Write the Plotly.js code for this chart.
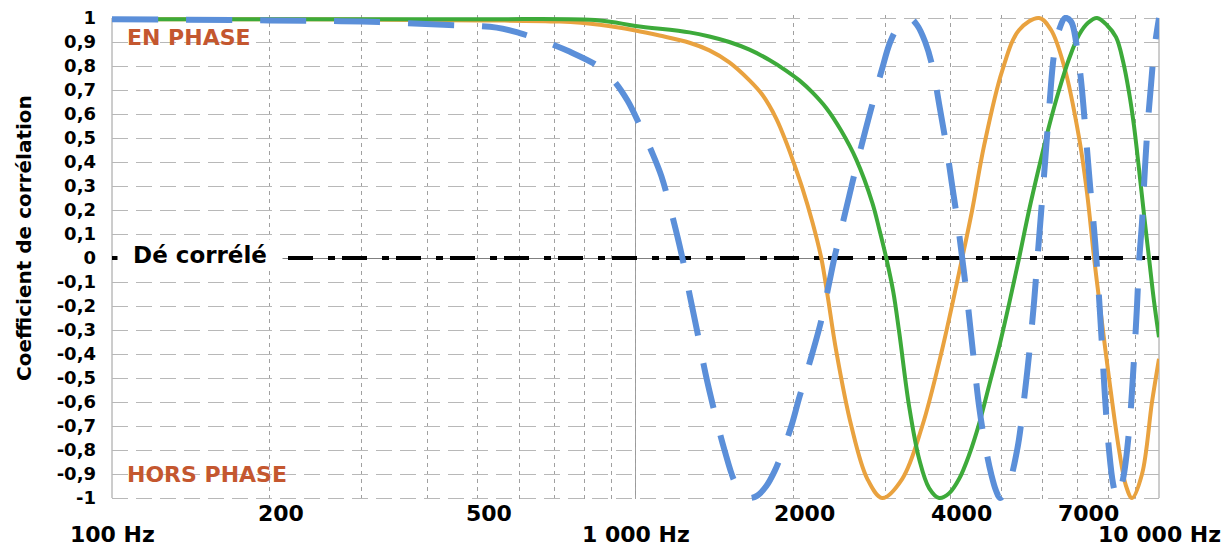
<!DOCTYPE html>
<html>
<head>
<meta charset="utf-8">
<script src="https://cdn.plot.ly/plotly-3.0.1.min.js"></script>
<style>
  html, body { margin: 0; padding: 0; background: #ffffff; }
  #chart { width: 1227px; height: 547px; }
</style>
</head>
<body>
<div id="chart"></div>
<script>
// ---- Data (frequency in Hz, correlation coefficient) ----
const freqBlue = [100, 200, 300, 430, 543, 601, 665, 748, 854, 912, 966, 1018, 1073, 1121, 1171, 1229, 1268, 1313, 1360, 1415, 1479, 1545, 1601, 1651, 1709, 1778, 1842, 1899, 1985, 2056, 2168, 2264, 2346, 2398, 2472, 2561, 2653, 2748, 2858, 2960, 3066, 3190, 3333, 3452, 3576, 3689, 3803, 3922, 4027, 4117, 4208, 4301, 4416, 4534, 4656, 4780, 4885, 4972, 5150, 5358, 5502, 5648, 5774, 5850, 5954, 6059, 6167, 6304, 6444, 6616, 6793, 6944, 7097, 7256, 7385, 7516, 7615, 7750, 7886, 8026, 8170, 8313, 8537, 8765, 8959, 9078, 9159, 9281, 9404, 9527, 9654, 9783, 10000];
const valBlue  = [0.995, 0.99, 0.985, 0.972, 0.96, 0.937, 0.905, 0.86, 0.795, 0.735, 0.655, 0.555, 0.445, 0.34, 0.19, 0.0, -0.15, -0.31, -0.48, -0.64, -0.80, -0.93, -0.985, -1.0, -0.99, -0.95, -0.89, -0.82, -0.70, -0.58, -0.41, -0.26, -0.10, 0.0, 0.12, 0.26, 0.40, 0.53, 0.67, 0.79, 0.90, 0.97, 1.0, 0.97, 0.90, 0.80, 0.64, 0.47, 0.30, 0.16, 0.0, -0.17, -0.40, -0.62, -0.78, -0.90, -0.97, -1.0, -0.95, -0.80, -0.62, -0.40, -0.18, -0.02, 0.19, 0.40, 0.62, 0.85, 0.95, 1.0, 0.985, 0.90, 0.74, 0.50, 0.30, 0.12, -0.04, -0.30, -0.58, -0.80, -0.94, -1.0, -0.92, -0.72, -0.42, -0.20, -0.02, 0.15, 0.38, 0.57, 0.72, 0.86, 1.0];

const freqGreen = [100, 500, 854, 1000, 1268, 1384, 1511, 1651, 1802, 1942, 2056, 2177, 2314, 2472, 2641, 2834, 2922, 3013, 3107, 3190, 3333, 3484, 3640, 3803, 3974, 4152, 4339, 4534, 4738, 4951, 5173, 5405, 5648, 5902, 6167, 6444, 6733, 7037, 7320, 7615, 7956, 8278, 8537, 8765, 8959, 9159, 9363, 9570, 9783, 10000];
const valGreen  = [0.995, 0.995, 0.99, 0.967, 0.94, 0.923, 0.90, 0.868, 0.825, 0.78, 0.74, 0.69, 0.625, 0.53, 0.41, 0.23, 0.12, 0.0, -0.14, -0.31, -0.62, -0.84, -0.96, -1.0, -0.98, -0.92, -0.82, -0.69, -0.53, -0.37, -0.19, 0.0, 0.20, 0.38, 0.55, 0.70, 0.83, 0.93, 0.98, 1.0, 0.97, 0.92, 0.82, 0.69, 0.55, 0.37, 0.18, 0.0, -0.18, -0.33];

const freqOrange = [100, 228, 500, 716, 854, 1000, 1111, 1268, 1384, 1511, 1651, 1747, 1858, 1942, 2003, 2084, 2177, 2264, 2325, 2419, 2584, 2772, 2960, 3233, 3530, 3854, 4208, 4397, 4635, 5017, 5405, 5902, 6221, 6587, 7037, 7288, 7516, 7783, 8026, 8389, 8650, 8881, 9281, 9697, 10000];
const valOrange  = [0.995, 0.995, 0.99, 0.985, 0.972, 0.948, 0.927, 0.897, 0.865, 0.815, 0.74, 0.68, 0.58, 0.48, 0.40, 0.29, 0.15, 0.0, -0.15, -0.39, -0.70, -0.92, -1.0, -0.92, -0.70, -0.38, 0.0, 0.20, 0.47, 0.78, 0.95, 1.0, 0.95, 0.80, 0.50, 0.27, 0.0, -0.27, -0.50, -0.80, -0.95, -1.0, -0.90, -0.60, -0.42];

const freqDecorr = [100, 10000];
const valDecorr  = [0, 0];

const xTickVals = [100, 200, 500, 1000, 2000, 4000, 7000, 10000];
const xTickText = ['100 Hz', '200', '500', '1 000 Hz', '2000', '4000', '7000', '10 000 Hz'];

const yTickVals = [-1, -0.9, -0.8, -0.7, -0.6, -0.5, -0.4, -0.3, -0.2, -0.1, 0, 0.1, 0.2, 0.3, 0.4, 0.5, 0.6, 0.7, 0.8, 0.9, 1];
const yTickText = ['-1', '-0,9', '-0,8', '-0,7', '-0,6', '-0,5', '-0,4', '-0,3', '-0,2', '-0,1', '0', '0,1', '0,2', '0,3', '0,4', '0,5', '0,6', '0,7', '0,8', '0,9', '1'];

const yTitle = 'Coefficient de corrélation';
const labelInPhase = 'EN PHASE';
const labelOutPhase = 'HORS PHASE';
const labelDecorr = 'Dé corrélé';

// ---- Styling ----
const FONT = 'DejaVu Sans, Verdana, sans-serif';
const RUST = '#C4572F';

const traces = [
  { x: freqDecorr, y: valDecorr, mode: 'lines', hoverinfo: 'skip',
    line: { color: '#000000', width: 4, dash: '7px,7px,25px,15px' } },
  { x: freqOrange, y: valOrange, mode: 'lines',
    line: { color: '#E9A23F', width: 4, shape: 'spline', smoothing: 1 } },
  { x: freqGreen, y: valGreen, mode: 'lines',
    line: { color: '#3DAA3A', width: 4, shape: 'spline', smoothing: 1 } },
  { x: freqBlue, y: valBlue, mode: 'lines',
    line: { color: '#5B8FD9', width: 6, dash: '46px,28px', shape: 'spline', smoothing: 1 } }
];

const annotations = [];
xTickVals.forEach(function (v, i) {
  const lower = xTickText[i].indexOf('Hz') >= 0;
  annotations.push({
    xref: 'x', yref: 'paper', x: Math.log10(v), y: 0,
    xanchor: 'center', yanchor: 'middle',
    xshift: lower ? 0 : 11, yshift: lower ? -33 : -12,
    text: xTickText[i], showarrow: false,
    font: { family: FONT, size: 22, color: '#000', weight: 'bold' }
  });
});
annotations.push({
  xref: 'paper', yref: 'paper', x: -0.0841, y: 0.541,
  xanchor: 'center', yanchor: 'middle', textangle: -90,
  text: yTitle, showarrow: false,
  font: { family: FONT, size: 20, color: '#000', weight: 'bold' }
});
annotations.push({
  xref: 'paper', yref: 'paper', x: 0.0124, y: 0.9527,
  xanchor: 'left', yanchor: 'middle',
  text: labelInPhase, showarrow: false,
  font: { family: FONT, size: 22, color: RUST, weight: 'bold' }
});
annotations.push({
  xref: 'paper', yref: 'paper', x: 0.0124, y: 0.0535,
  xanchor: 'left', yanchor: 'middle',
  text: labelOutPhase, showarrow: false,
  font: { family: FONT, size: 22, color: RUST, weight: 'bold' }
});
annotations.push({
  xref: 'paper', yref: 'y', x: 0.084, y: 0,
  xanchor: 'center', yanchor: 'middle', yshift: 3,
  text: labelDecorr, showarrow: false, bgcolor: '#ffffff',
  width: 160, borderpad: 2,
  font: { family: FONT, size: 23, color: '#000', weight: 'bold' }
});

const lineStyle = { color: '#9a9a9a', width: 1 };
const shapes = [0, 0.5, 1].map(function (p) {
  return { type: 'line', xref: 'paper', yref: 'y', x0: p, x1: p, y0: -1, y1: 1,
           line: lineStyle, layer: 'below' };
});

const layout = {
  width: 1227, height: 547,
  margin: { l: 112, r: 68, t: 15, b: 46, pad: 0 },
  paper_bgcolor: '#ffffff', plot_bgcolor: '#ffffff',
  showlegend: false,
  font: { family: FONT, color: '#000' },
  xaxis: {
    type: 'log', range: [2, 4], dtick: 'D1',
    showticklabels: false, ticks: '',
    showgrid: true, gridcolor: '#a0a0a0', gridwidth: 1, griddash: '4px,4px',
    zeroline: false, showline: false, fixedrange: true
  },
  yaxis: {
    range: [-1.0125, 1.0125],
    tickmode: 'array', tickvals: yTickVals, ticktext: yTickText,
    ticks: '', ticklabelstandoff: 15,
    tickfont: { family: FONT, size: 18, color: '#000', weight: 'bold' },
    showgrid: true, gridcolor: '#b8b8b8', gridwidth: 1, griddash: '16px,8px',
    zeroline: true, zerolinecolor: '#808080', zerolinewidth: 1,
    showline: false, fixedrange: true
  },
  annotations: annotations,
  shapes: shapes
};

Plotly.newPlot('chart', traces, layout, { staticPlot: true, displayModeBar: false });
</script>
</body>
</html>
